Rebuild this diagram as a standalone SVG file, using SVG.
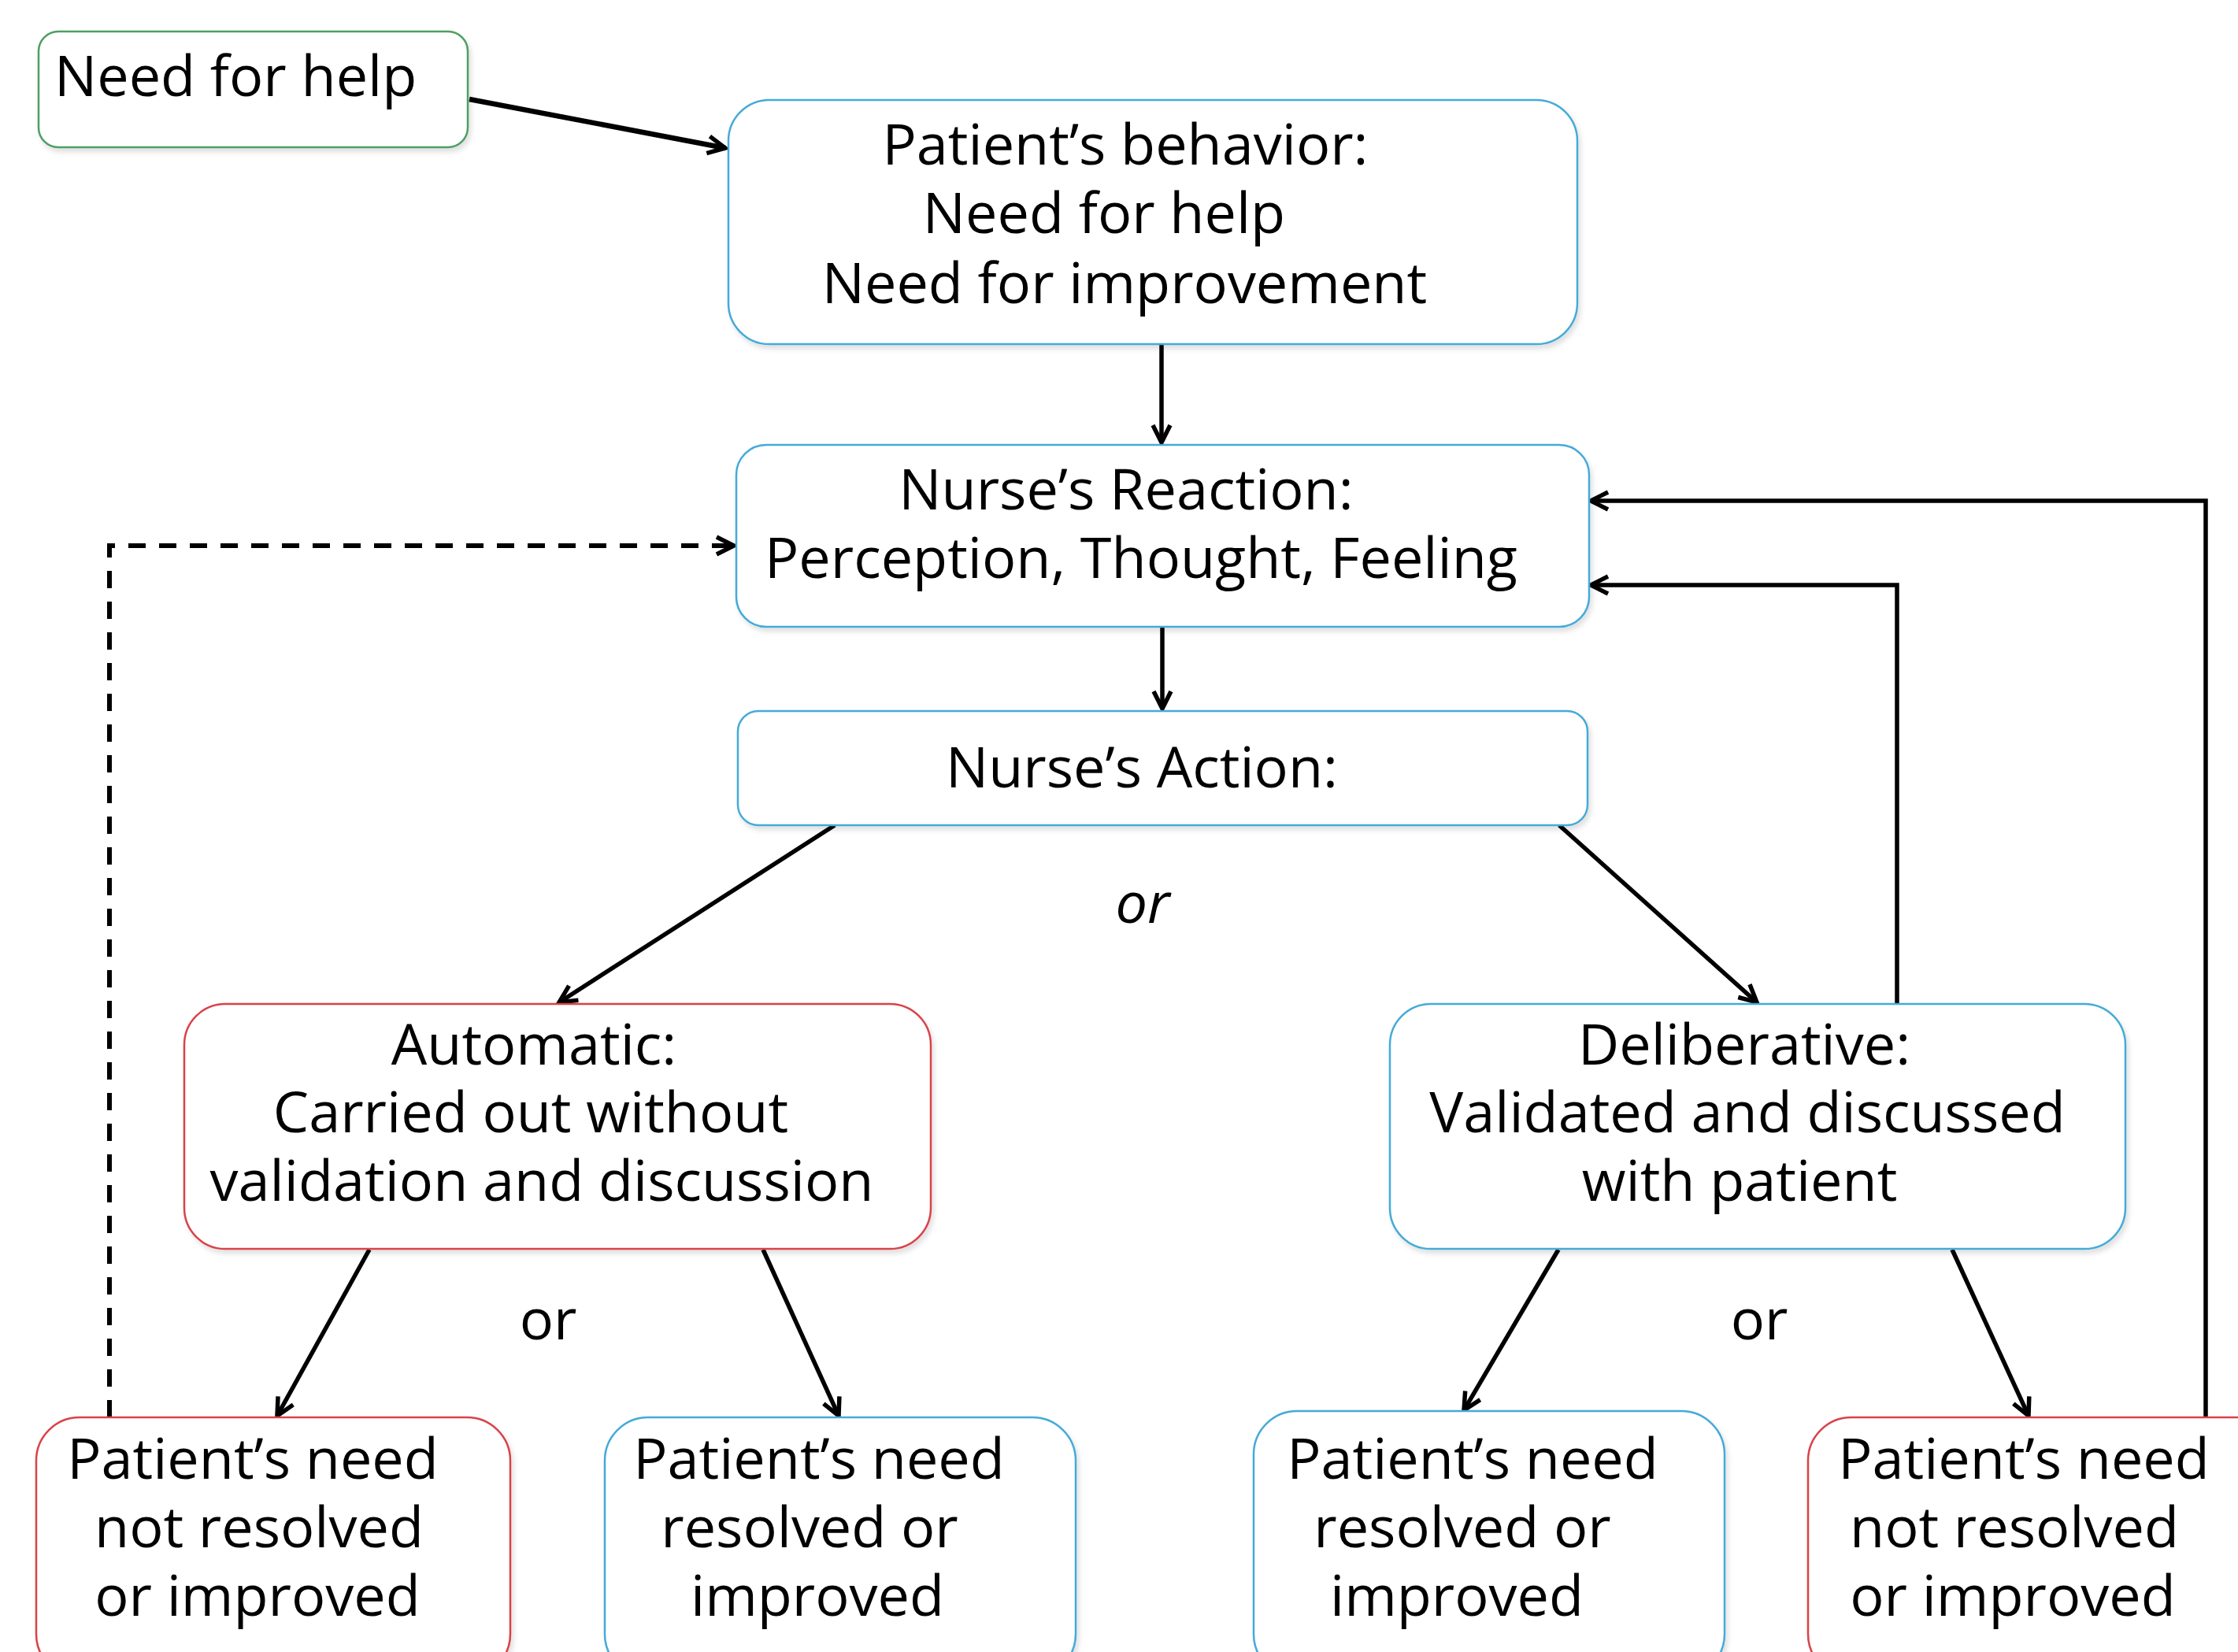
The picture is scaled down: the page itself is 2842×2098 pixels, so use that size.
<svg xmlns="http://www.w3.org/2000/svg" width="2842" height="2098" viewBox="0 0 2842 2098">
<defs>
<style>
.box{fill:#ffffff;stroke-width:2.5;filter:url(#sh)}
.blue{stroke:#45aad8}
.red{stroke:#d9434a}
.green{stroke:#4e9f63}
.t{font-family:"Open Sans","Liberation Sans",sans-serif;font-size:72px;fill:#000;text-anchor:middle}
.l{text-anchor:start}
.it{font-style:italic}
.c{fill:none;stroke:#000;stroke-width:5.5;marker-end:url(#ah)}
.d{fill:none;stroke:#000;stroke-width:6;stroke-dasharray:22 17;marker-end:url(#ah)}
</style>
<filter id="sh" x="-5%" y="-5%" width="110%" height="115%">
<feDropShadow dx="3" dy="5" stdDeviation="3" flood-color="#000" flood-opacity="0.12"/>
</filter>
<marker id="ah" markerUnits="userSpaceOnUse" viewBox="-30 -16 34 32" refX="0" refY="0" markerWidth="34" markerHeight="32" orient="auto">
<path d="M-22,-11 L0,0 L-22,11" fill="none" stroke="#000" stroke-width="5.5" stroke-dasharray="none" stroke-linejoin="miter"/>
</marker>
</defs>
<rect width="2842" height="2098" fill="#ffffff"/>
<g id="connectors">
<path class="c" d="M596,126 L921,188" style="stroke-width:6.5"/>
<path class="c" d="M1475,437 L1475,562"/>
<path class="c" d="M1476,797 L1476,900"/>
<path class="c" d="M1060,1048 L710,1273"/>
<path class="c" d="M1980,1048 L2231,1273"/>
<path class="c" d="M2409,1275 L2409,743 L2020,743"/>
<path class="c" d="M2801,1800 L2801,636 L2020,636"/>
<path class="c" d="M469,1587 L352,1798"/>
<path class="c" d="M969,1587 L1065,1798"/>
<path class="c" d="M1979,1587 L1859,1791"/>
<path class="c" d="M2479,1587 L2576,1798"/>
<path class="d" d="M139,1800 L139,693 L932,693"/>
</g>
<g id="n_need">
<rect class="box green" x="49" y="40" width="545" height="147" rx="25"/>
<text class="t l" x="69" y="122">Need for help</text>
</g>
<g id="n_behavior">
<rect class="box blue" x="925" y="127" width="1078" height="310" rx="52"/>
<text class="t" x="1429" y="209">Patient’s behavior:</text>
<text class="t" x="1402" y="296">Need for help</text>
<text class="t" x="1428" y="385">Need for improvement</text>
</g>
<g id="n_reaction">
<rect class="box blue" x="935" y="565" width="1083" height="231" rx="38"/>
<text class="t" x="1430" y="647">Nurse’s Reaction:</text>
<text class="t" x="1449" y="734">Perception, Thought, Feeling</text>
</g>
<g id="n_action">
<rect class="box blue" x="937" y="903" width="1079" height="145" rx="26"/>
<text class="t" x="1450" y="1000">Nurse’s Action:</text>
</g>
<text class="t it" x="1451" y="1172">or</text>
<g id="n_auto">
<rect class="box red" x="234" y="1275" width="948" height="311" rx="52"/>
<text class="t" x="678" y="1352">Automatic:</text>
<text class="t" x="674" y="1438">Carried out without</text>
<text class="t" x="688" y="1525">validation and discussion</text>
</g>
<g id="n_delib">
<rect class="box blue" x="1765" y="1275" width="934" height="311" rx="52"/>
<text class="t" x="2215" y="1352">Deliberative:</text>
<text class="t" x="2219" y="1438">Validated and discussed</text>
<text class="t" x="2209" y="1525">with patient</text>
</g>
<text class="t" x="696" y="1701">or</text>
<text class="t" x="2234" y="1701">or</text>
<g id="n_bl">
<rect class="box red" x="46" y="1800" width="602" height="330" rx="55"/>
<text class="t" x="321" y="1878">Patient’s need</text>
<text class="t" x="329" y="1965">not resolved</text>
<text class="t" x="327" y="2052">or improved</text>
</g>
<g id="n_bm">
<rect class="box blue" x="768" y="1800" width="598" height="330" rx="55"/>
<text class="t" x="1040" y="1878">Patient’s need</text>
<text class="t" x="1028" y="1965">resolved or</text>
<text class="t" x="1038" y="2052">improved</text>
</g>
<g id="n_br1">
<rect class="box blue" x="1592" y="1792" width="598" height="338" rx="55"/>
<text class="t" x="1870" y="1878">Patient’s need</text>
<text class="t" x="1857" y="1965">resolved or</text>
<text class="t" x="1850" y="2052">improved</text>
</g>
<g id="n_br2">
<rect class="box red" x="2296" y="1800" width="600" height="330" rx="55"/>
<text class="t" x="2570" y="1878">Patient’s need</text>
<text class="t" x="2558" y="1965">not resolved</text>
<text class="t" x="2556" y="2052">or improved</text>
</g>
</svg>
